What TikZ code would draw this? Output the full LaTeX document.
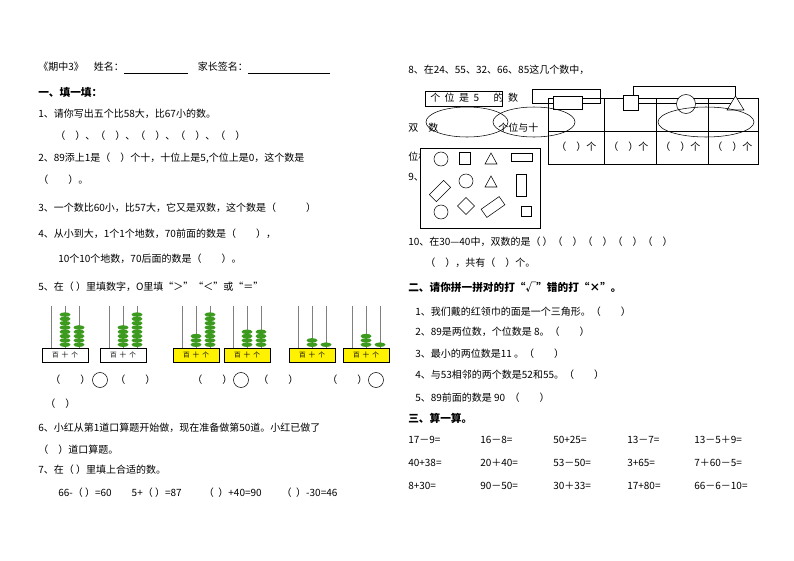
\documentclass[tikz,border=0pt]{standalone}
\usepackage{fontspec}
\setmainfont{Liberation Serif}
\newfontfamily\cjk{Noto Sans CJK SC}
\usetikzlibrary{positioning}
\definecolor{beadG}{HTML}{3C9A1E}
\definecolor{baseY}{HTML}{FFF200}
\tikzset{
  txt/.style={anchor=west,inner sep=0pt,font=\cjk\fontsize{7.5}{9}\selectfont},
  head/.style={txt,font=\cjk\bfseries\fontsize{8}{9}\selectfont},
  shp/.style={draw,thin}
}
% abacus: x, base colour, tens, ones
\newcommand{\abacus}[4]{%
  \begin{scope}[shift={(#1,0)}]
    \foreach \r in {0,1,2} \draw[gray] (9+\r*14,306) -- (9+\r*14,348);
    \foreach \b in {1,...,#3} \fill[beadG] (23,349-\b*4.3) ellipse (5.5 and 2.3);
    \foreach \b in {1,...,#4} \fill[beadG] (37,349-\b*4.3) ellipse (5.5 and 2.3);
    \draw[fill=#2] (0,348) rectangle (46,362);
    \node[font=\cjk\fontsize{5}{5}\selectfont] at (23,355) {百\ \ 十\ \ 个};
  \end{scope}}
\begin{document}
\begin{tikzpicture}[x=0.75pt,y=-0.75pt]
\useasboundingbox (0,0) rectangle (794,561);
\fill[white] (0,0) rectangle (794,561);
% left column
\node[txt] (t0) at (38,68) {《期中3》\quad 姓名：\underline{\hspace{48pt}}\quad 家长签名：\underline{\hspace{62pt}}};
\node[head] (h1) at (38,92) {一、填一填：};
\node[txt] (q1) at (38,114) {1、请你写出五个比58大，比67小的数。};
\node[txt] (q1a) at (55,136) {（\quad ）、（\quad ）、（\quad ）、（\quad ）、（\quad ）};
\node[txt] (q2) at (38,158) {2、89添上1是（\quad ）个十，十位上是5,个位上是0，这个数是};
\node[txt] (q2a) at (38,180) {（\qquad ）。};
\node[txt] (q3) at (38,208) {3、一个数比60小，比57大，它又是双数，这个数是（\qquad\quad ）};
\node[txt] (q4) at (38,234) {4、从小到大，1个1个地数，70前面的数是（\qquad ），};
\node[txt] (q4a) at (58,259) {10个10个地数，70后面的数是（\qquad ）。};
\node[txt] (q5) at (38,287) {5、在（ ）里填数字，O里填“＞”“＜”或“＝”};
\abacus{42}{white}{8}{5}
\abacus{100}{white}{5}{8}
\abacus{173}{baseY}{3}{8}
\abacus{224}{baseY}{4}{4}
\abacus{289}{baseY}{2}{1}
\abacus{343}{baseY}{3}{1}
\foreach \x in {50,192,327} \node[txt] at (\x,380) {（\qquad ）};
\foreach \x in {100,241,376} \draw (\x,380) circle (7.5);
\foreach \x in {115,258} \node[txt] at (\x,380) {（\qquad ）};
\node[txt] (q5a) at (45,404) {（\quad ）};
\node[txt] (q6) at (38,428) {6、小红从第1道口算题开始做，现在准备做第50道。小红已做了};
\node[txt] (q6a) at (38,450) {（\quad ）道口算题。};
\node[txt] (q7) at (38,470) {7、在（ ）里填上合适的数。};
\node[txt] (q7a) at (58,493) {66-（\ ）=60\qquad 5+（\ ）=87\qquad\ （\ \ ）+40=90\qquad （\ \ ）-30=46};
% right column
\node[txt] (q8) at (408,70) {8、在24、55、32、66、85这几个数中，};
\draw[shp] (425,91) rectangle (502,106);
\node[txt] at (430,98) {个\ \ 位\ \ 是\ \ 5\quad\ \ 的\ \ 数};
\node[txt] at (408,128) {双\quad 数};
\node[txt] at (498,128) {个位与十};
\node[txt] at (408,157) {位相};
\node[txt] at (408,177) {9、};
\draw[shp,fill=white] (420,148) rectangle (540,228);
\draw[shp] (548,98) rectangle (758,164) (548,131) -- (758,131);
\foreach \x in {604,656,708} \draw[shp] (\x,98) -- (\x,164);
\foreach \x in {556,608,660,712} \node[txt] at (\x,147) {（\quad ）个};
\draw[shp] (532,89) rectangle (600,103);
\draw[shp] (633,86) rectangle (735,103);
\draw[shp,fill=white] (553,96) rectangle (582,109);
\draw[shp,fill=white] (623,95) rectangle (638,110);
\draw[shp,fill=white] (686,104) circle (9.5);
\draw[shp,fill=white] (727,110) -- (744,110) -- (735.5,96) -- cycle;
\draw[shp] (467,122) ellipse (41 and 15);
\draw[shp] (534,122) ellipse (41 and 15);
\draw[shp] (706,122) ellipse (48 and 15);
% shapes in box
\draw[shp] (441,159) circle (7);
\draw[shp] (459,152) rectangle (470,164);
\draw[shp] (485,164) -- (497,164) -- (491,153) -- cycle;
\draw[shp] (511,153) rectangle (532,161);
\draw[shp,rotate around={45:(440,191)}] (430,186) rectangle (450,196);
\draw[shp] (466,181) circle (7);
\draw[shp] (485,187) -- (497,187) -- (491,176) -- cycle;
\draw[shp] (516,174) rectangle (526,196);
\draw[shp] (441,212) circle (7);
\draw[shp,rotate around={45:(466,206)}] (460,200) rectangle (472,212);
\draw[shp,rotate around={35:(493,207)}] (482,202) rectangle (504,212);
\draw[shp] (521,206) rectangle (531,216);
\node[txt] (q10) at (408,242) {10、在30—40中，双数的是（ ）（\quad ）（\quad ）（\quad ）（\quad ）};
\node[txt] (q10a) at (425,263) {（\quad ），共有（\quad ）个。};
\node[head] (h2) at (408,287) {二、请你拼一拼对的打“√”错的打“×”。};
\node[txt] at (415,312) {1、我们戴的红领巾的面是一个三角形。（\qquad ）};
\node[txt] at (415,332) {2、89是两位数，个位数是 8。（\qquad ）};
\node[txt] at (415,354) {3、最小的两位数是11 。（\qquad ）};
\node[txt] at (415,375) {4、与53相邻的两个数是52和55。（\qquad ）};
\node[txt] at (415,398) {5、89前面的数是 90 \ （\qquad ）};
\node[head] (h3) at (408,418) {三、算一算。};
\foreach \y/\a/\b/\c/\d/\e in {440/17－9=/16－8=/50+25=/13－7=/13－5＋9=,
  463/40+38=/20＋40=/53－50=/3+65=/7＋60－5=,
  486/8+30=/90－50=/30＋33=/17+80=/66－6－10=} {
  \node[txt] at (408,\y) {\a};
  \node[txt] at (480,\y) {\b};
  \node[txt] at (553,\y) {\c};
  \node[txt] at (627,\y) {\d};
  \node[txt] at (694,\y) {\e};
}
\end{tikzpicture}
\end{document}
